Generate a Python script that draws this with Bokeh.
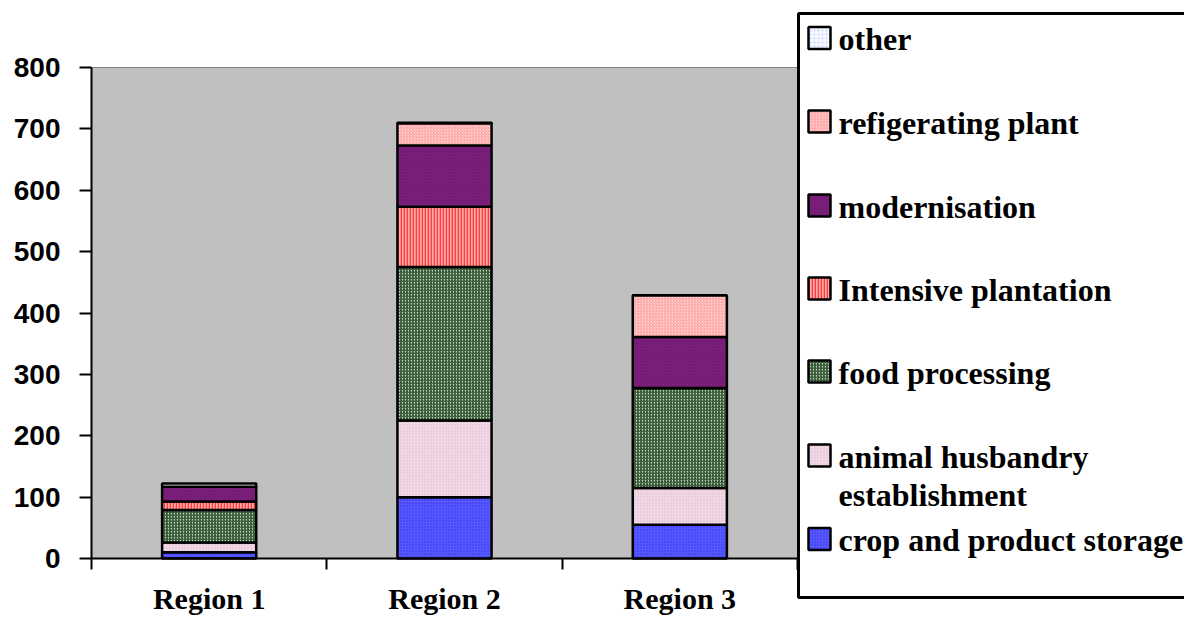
from bokeh.plotting import figure
from bokeh.models import ColumnDataSource, Range1d, FixedTicker
from bokeh.core.properties import value
from bokeh.embed import file_html
from bokeh.resources import INLINE

# ---------------- data ----------------
regions = ["Region 1", "Region 2", "Region 3"]
crop_storage = [10, 100, 55]
animal_husbandry = [16, 125, 60]
food_processing = [53, 250, 163]
intensive_plantation = [14, 98, 0]
modernisation = [24, 100, 83]
refrigerating_plant = [0, 36, 68]
other = [5, 1, 0]

series_keys = ["crop", "animal", "food", "intensive", "modern", "refrig", "other"]
series_labels = ["crop and product storage", "animal husbandry\nestablishment",
                 "food processing", "Intensive plantation", "modernisation",
                 "refigerating plant", "other"]
y_ticks = [0, 100, 200, 300, 400, 500, 600, 700, 800]
y_max = 800

# ---------------- styles ----------------
fills = ["#5858ff", "#f0d8e6", "#c8d8c8", "#ffa8a8", "#7a207a", "#ffd6d6", "#f6f8ff"]
hatches = ["dot", "dot", "/", "|", "dot", "/", "dot"]
hatch_cols = ["#3030f0", "#e0b8cc", "#2a4f2a", "#ff3a3a", "#6a126a", "#ff9a9a", "#c8d4ff"]
hatch_scales = [3, 3, 3, 3, 3, 3, 4]
hatch_weights = [1.0, 1.0, 1.2, 1.6, 1.0, 1.0, 1.0]

W, H = 1184, 620
FL, FR, FT, FB = 91, 797, 67, 558          # plot-area edges in pixels
ncat = len(regions)
ppx = (FR - FL) / ncat
ppy = (FB - FT) / y_max

x_pos = [i + 0.5 for i in range(ncat)]
source = ColumnDataSource(dict(
    x=x_pos, crop=crop_storage, animal=animal_husbandry, food=food_processing,
    intensive=intensive_plantation, modern=modernisation, refrig=refrigerating_plant,
    other=other))

p = figure(width=W, height=H, output_backend="svg", toolbar_location=None,
           x_range=Range1d(-FL / ppx, ncat + (W - FR) / ppx),
           y_range=Range1d(-(H - FB) / ppy, y_max + FT / ppy),
           min_border=0, min_border_left=0, min_border_right=0,
           min_border_top=0, min_border_bottom=0)
p.extra_x_ranges = {"px": Range1d(0, W)}
p.extra_y_ranges = {"px": Range1d(H, 0)}
p.background_fill_color = "white"
p.border_fill_color = "white"
p.outline_line_color = None
p.xgrid.visible = False
p.ygrid.visible = False

# grey plot area
p.quad(left=[0], right=[ncat], bottom=[0], top=[y_max], fill_color="#c0c0c0",
       line_color="#808080", line_width=1)

p.vbar_stack(series_keys, x="x", width=0.4, source=source,
             fill_color=fills, line_color="black", line_width=2.5,
             hatch_pattern=hatches, hatch_color=hatch_cols,
             hatch_scale=hatch_scales, hatch_weight=hatch_weights)

# y axis
ya = p.yaxis[0]
ya.fixed_location = 0
ya.bounds = (0, y_max)
ya.ticker = FixedTicker(ticks=y_ticks)
ya.axis_line_width = 2
ya.axis_line_color = "black"
ya.major_tick_line_width = 2
ya.major_tick_out = 12
ya.major_tick_in = 0
ya.minor_tick_line_color = None
ya.major_label_text_font = "Liberation Sans"
ya.major_label_text_font_style = "bold"
ya.major_label_text_font_size = "28px"
ya.major_label_text_color = "black"
ya.major_label_standoff = 19

# x axis
xa = p.xaxis[0]
xa.fixed_location = 0
xa.bounds = (0, ncat)
xa.ticker = FixedTicker(ticks=x_pos, minor_ticks=list(range(ncat + 1)))
xa.major_label_overrides = {x: r for x, r in zip(x_pos, regions)}
xa.axis_line_width = 2
xa.axis_line_color = "black"
xa.major_tick_line_color = None
xa.major_tick_out = 0
xa.major_tick_in = 0
xa.minor_tick_line_color = "black"
xa.minor_tick_line_width = 2
xa.minor_tick_out = 11
xa.minor_tick_in = 0
xa.major_label_text_font = "Liberation Serif"
xa.major_label_text_font_style = "bold"
xa.major_label_text_font_size = "30px"
xa.major_label_text_color = "black"
xa.major_label_standoff = 12

# ---------------- legend (pixel coordinates) ----------------
p.quad(left=[798], right=[W + 40], top=[13], bottom=[597], fill_color="white",
       line_color="black", line_width=3, x_range_name="px", y_range_name="px")

order = list(range(len(series_keys)))[::-1]
centers = [37.5, 121, 205, 288, 371, 455, 538.5]
for c, i in zip(centers, order):
    p.quad(left=[808], right=[830], top=[c - 11], bottom=[c + 11], fill_color=fills[i],
           line_color="black", line_width=2.5, hatch_pattern=hatches[i],
           hatch_color=hatch_cols[i], hatch_scale=hatch_scales[i],
           hatch_weight=hatch_weights[i], x_range_name="px", y_range_name="px")
    for k, line in enumerate(series_labels[i].split("\n")):
        p.text(x=[838], y=[c + 1 + 38 * k], text=[line],
               text_font=value("Liberation Serif"), text_font_style="bold",
               text_font_size="32px", text_baseline="middle", text_align="left",
               text_color="black", x_range_name="px", y_range_name="px")

open("out.html", "w").write(file_html(p, INLINE))
